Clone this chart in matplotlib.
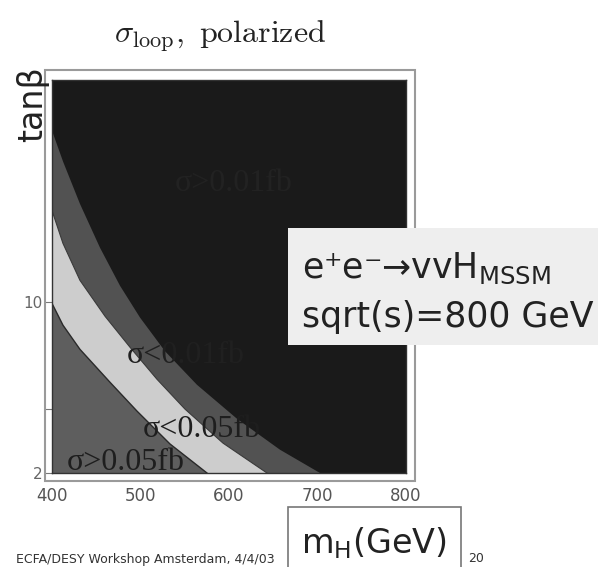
import matplotlib
matplotlib.use('Agg')
import matplotlib.pyplot as plt
from matplotlib.patches import Rectangle

# boundary curves (m_H [GeV], tan beta)
mh_a = [400, 412.4, 431.6, 465.5, 496.0, 533.3, 575.1]
tb_a = [9.94, 8.92, 7.79, 6.25, 4.90, 3.36, 2.0]
mh_b = [400, 412.4, 431.6, 459.9, 488.1, 518.6, 550.3, 593.2, 642.9]
tb_b = [14.29, 12.75, 11.02, 9.34, 7.89, 6.39, 4.99, 3.40, 2.0]
mh_c = [400, 412.4, 431.6, 454.2, 476.8, 499.4, 527.7, 563.8, 609.0, 657.6, 702.8]
tb_c = [18.03, 16.59, 14.60, 12.55, 10.77, 9.28, 7.70, 6.13, 4.54, 3.09, 2.0]

xticks = [400, 500, 600, 700, 800]
xticklabels = ['400', '500', '600', '700', '800']
yticks = [2, 5, 10]
yticklabels = ['2', '', '10']

W, H = 598, 567
fig = plt.figure(figsize=(W / 100, H / 100), dpi=100)

def fx(px):
    return px / W

def fy(py):
    return 1 - py / H

# outer light frame
fig.patches.append(Rectangle((fx(45), fy(481)), (415 - 45) / W, (481 - 70) / H,
                             transform=fig.transFigure, fill=False,
                             edgecolor='#9a9a9a', lw=1.5, zorder=0))

ax = fig.add_axes([fx(52), fy(473), (406 - 52) / W, (473 - 80) / H])
ax.set_facecolor('#1a1a1a')
ax.set_xlim(400, 800)
ax.set_ylim(2, 20.4)

ax.fill(mh_c + [400], tb_c + [2], color='#525252', lw=0)
ax.fill(mh_b + [400], tb_b + [2], color='#cdcdcd', lw=0)
ax.fill(mh_a + [400], tb_a + [2], color='#5e5e5e', lw=0)
ax.plot(mh_a, tb_a, color='#2a2a2a', lw=1.0)
ax.plot(mh_b, tb_b, color='#3a3a3a', lw=0.8)

serif = 'Liberation Serif'
ax.text(485, 7.14, 'σ<0.01fb', fontsize=23, family=serif, color='#202020')
ax.text(503, 3.68, 'σ<0.05fb', fontsize=23, family=serif, color='#1e1e1e')
ax.text(417, 2.12, 'σ>0.05fb', fontsize=23, family=serif, color='#1e1e1e')
ax.text(539, 15.2, 'σ>0.01fb', fontsize=23, family=serif, color='#222222')

ax.set_xticks(xticks)
ax.set_xticklabels(xticklabels, fontsize=12, color='#555555')
ax.tick_params(axis='x', length=0, pad=10)
ax.set_yticks(yticks)
ax.set_yticklabels(yticklabels, fontsize=11, color='#666666')
ax.tick_params(axis='y', length=5, width=0.8, color='#777777', pad=2)
for s in ax.spines.values():
    s.set_color('#333333')
    s.set_linewidth(1.0)

# title and axis labels
fig.text(fx(220), fy(36), r'$\sigma_{\rm loop},\ {\rm polarized}$', fontsize=23,
         math_fontfamily='cm', ha='center', va='center', color='#222222')
fig.text(fx(33), fy(104), 'tanβ', rotation=90, fontsize=24, ha='center',
         va='center', color='#222222')

# annotation box
fig.patches.append(Rectangle((fx(288), fy(345)), (W - 288) / W, (345 - 228) / H,
                             transform=fig.transFigure, facecolor='#eeeeee',
                             edgecolor='none', zorder=1))
fig.text(fx(302), fy(278), 'e⁺e⁻→vvH$_{\\mathrm{MSSM}}$', fontsize=25,
         math_fontfamily='dejavusans', va='baseline', color='#222222', zorder=2)
fig.text(fx(302), fy(327), 'sqrt(s)=800 GeV', fontsize=25, va='baseline',
         color='#222222', zorder=2)

# m_H label box
fig.patches.append(Rectangle((fx(288), fy(590)), (461 - 288) / W, (590 - 507) / H,
                             transform=fig.transFigure, facecolor='white',
                             edgecolor='#777777', lw=1.2, zorder=1))
fig.text(fx(301), fy(553), r'm$_{\mathrm{H}}$(GeV)', fontsize=24,
         math_fontfamily='dejavusans', va='baseline', color='#222222', zorder=2)

# footer
fig.text(fx(275), fy(559), 'ECFA/DESY Workshop Amsterdam, 4/4/03', ha='right',
         va='center', fontsize=9, color='#333333')
fig.text(fx(468), fy(559), '20', ha='left', va='center', fontsize=9, color='#333333')

fig.savefig('out.png', dpi=100)
